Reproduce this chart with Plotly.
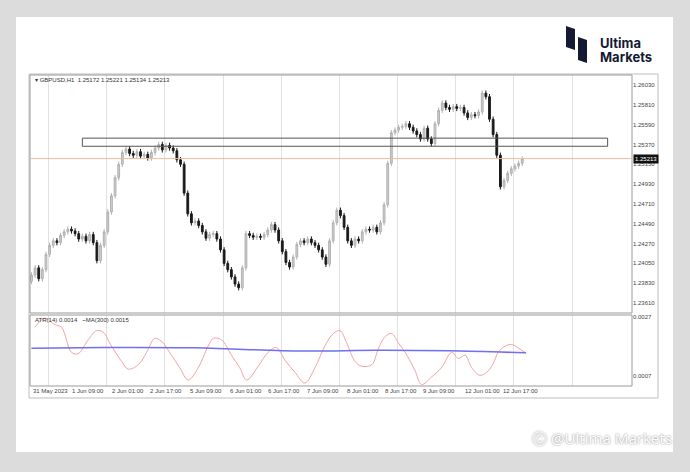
import plotly.graph_objects as go

W, H = 690, 472

# hourly closes, bar 0 = 31 May 2023
closes = [
    1.2392, 1.2400, 1.2388, 1.2398, 1.2415, 1.2425, 1.2430, 1.2428, 1.2436, 1.2440,
    1.2443, 1.2441, 1.2438, 1.2432, 1.2435, 1.2430, 1.2437, 1.2428, 1.2408, 1.2425,
    1.2440, 1.2462, 1.2480, 1.2500, 1.2515, 1.2528, 1.2532, 1.2527, 1.2525, 1.2529,
    1.2524, 1.2526, 1.2522, 1.2528, 1.2533, 1.2537, 1.2531, 1.2536, 1.2533, 1.2530,
    1.2520, 1.2515, 1.2483, 1.2460, 1.2450, 1.2452, 1.2447, 1.2440, 1.2433, 1.2437,
    1.2438, 1.2432, 1.2420, 1.2405, 1.2398, 1.2390, 1.2382, 1.2378, 1.2400, 1.2438,
    1.2436, 1.2434, 1.2435, 1.2434, 1.2437, 1.2442, 1.2448, 1.2442, 1.2430, 1.2418,
    1.2406, 1.2401, 1.2412, 1.2426, 1.2430, 1.2428, 1.2432, 1.2428, 1.2425, 1.2420,
    1.2412, 1.2404, 1.2430, 1.2450, 1.2464, 1.2458, 1.2445, 1.2430, 1.2425, 1.2432,
    1.2430, 1.2440, 1.2443, 1.2442, 1.2445, 1.2440, 1.2450, 1.2470, 1.2516, 1.2550,
    1.2553, 1.2556, 1.2557, 1.2560, 1.2556, 1.2552, 1.2548, 1.2543, 1.2555, 1.2543,
    1.2538, 1.2560, 1.2575, 1.2583, 1.2578, 1.2576, 1.2579, 1.2577, 1.2578, 1.2572,
    1.2567, 1.2570, 1.2569, 1.2573, 1.2594, 1.2590, 1.2565, 1.2548, 1.2525, 1.2490,
    1.2497, 1.2505, 1.2510, 1.2513, 1.2516, 1.2521,
]
first_open = 1.2385
wick = 0.0003

atr_x = [0.9, 3.7, 6.4, 8.3, 11, 12.8, 15.6, 17.9, 19.7, 22,
         24.8, 26.6, 29.4, 31.7, 33.9, 35.8, 38.5, 40.8, 43.1, 45.9,
         48.6, 50, 52.3, 55, 57.3, 59.2, 62.4, 65.1, 67.4, 69.7,
         72.5, 75.2, 78, 80.7, 83, 84.9, 86.7, 89, 90.8, 93.6,
         95.4, 97.2, 99.1, 100.9, 102.8, 105.5, 107.3, 110.1, 112.8, 115.6,
         117.4, 119.3, 121.1, 123.4, 125.7, 127.1, 128.4, 130.3, 132.1, 134.4, 136.2]
atr_v = [0.00233, 0.00264, 0.00243, 0.00233, 0.00149, 0.00144, 0.00191, 0.00222, 0.00217, 0.00170,
         0.00118, 0.00092, 0.00107, 0.00149, 0.00196, 0.00186, 0.00139, 0.00097, 0.00055, 0.00097,
         0.00170, 0.00196, 0.00191, 0.00139, 0.00097, 0.00055, 0.00102, 0.00149, 0.00165, 0.00123,
         0.00081, 0.00045, 0.00097, 0.00170, 0.00212, 0.00222, 0.00181, 0.00118, 0.00102, 0.00107,
         0.00160, 0.00201, 0.00212, 0.00181, 0.00149, 0.00087, 0.00040, 0.00066, 0.00097, 0.00149,
         0.00128, 0.00139, 0.00097, 0.00071, 0.00087, 0.00113, 0.00149, 0.00170, 0.00175, 0.00160, 0.00144]
ma_x = [0, 20, 45, 55, 75, 95, 115, 136]
ma_v = [0.00163, 0.00165, 0.00164, 0.00160, 0.00153, 0.00156, 0.00154, 0.00147]

price_ticks = [1.23610, 1.23830, 1.24050, 1.24270, 1.24490, 1.24710, 1.24930,
               1.25150, 1.25370, 1.25590, 1.25810, 1.26030]
time_labels = ["31 May 2023", "1 Jun 09:00", "2 Jun 01:00", "2 Jun 17:00", "5 Jun 09:00",
               "6 Jun 01:00", "6 Jun 17:00", "7 Jun 09:00", "8 Jun 01:00", "8 Jun 17:00",
               "9 Jun 09:00", "12 Jun 01:00", "12 Jun 17:00"]
time_pos = [0, 10.7, 21.7, 32.1, 43.1, 54.1, 64.6, 75.3, 86.3, 96.7, 107.1, 118.7, 129.1]
grid_pos = [4.7 + 16 * k for k in range(10)]
last_price = 1.25213
zone_lo, zone_hi = 1.2535, 1.2544

opens = [first_open] + closes[:-1]
highs = [max(o, c) + wick for o, c in zip(opens, closes)]
lows = [min(o, c) - wick for o, c in zip(opens, closes)]
idx = list(range(len(closes)))

def px(x):
    return x / W

def py(y):
    return 1 - y / H

xr = [-0.4, 165.2]
fig = go.Figure()
fig.add_trace(go.Candlestick(
    x=idx, open=opens, high=highs, low=lows, close=closes,
    increasing=dict(line=dict(color="#b0b0b0", width=1), fillcolor="#d0d0d0"),
    decreasing=dict(line=dict(color="#1a1a1a", width=1), fillcolor="#1a1a1a"),
    whiskerwidth=0, xaxis="x", yaxis="y", hoverinfo="skip"))
fig.add_trace(go.Scatter(x=atr_x, y=atr_v, mode="lines", line=dict(color="#f3a3a3", width=1, shape="spline"),
                         xaxis="x2", yaxis="y2"))
fig.add_trace(go.Scatter(x=ma_x, y=ma_v, mode="lines", line=dict(color="#6f6ff0", width=1.5, shape="spline"),
                         xaxis="x2", yaxis="y2"))

axfont = dict(family="Liberation Sans", size=6, color="#444")
fig.update_layout(
    width=W, height=H, margin=dict(l=0, r=0, t=0, b=0),
    paper_bgcolor="#dcdcdc", plot_bgcolor="white", showlegend=False,
    xaxis=dict(domain=[px(30), px(632)], range=xr, tickvals=grid_pos, showticklabels=False,
               showgrid=True, gridcolor="#e2e2e2", zeroline=False, rangeslider=dict(visible=False),
               anchor="y"),
    yaxis=dict(domain=[py(313), py(75)], range=[1.23499, 1.26141], side="right",
               tickvals=price_ticks, ticktext=["%.5f" % v for v in price_ticks],
               showgrid=False, zeroline=False, tickfont=axfont, ticks="", anchor="x"),
    xaxis2=dict(domain=[px(30), px(632)], range=xr, tickvals=grid_pos, showticklabels=False,
                showgrid=True, gridcolor="#e2e2e2", zeroline=False, anchor="y2"),
    yaxis2=dict(domain=[py(386), py(315)], range=[0.00035, 0.00275], side="right",
                tickvals=[0.0007, 0.0027], ticktext=["0.0007", "0.0027"],
                showgrid=False, zeroline=False, tickfont=axfont, ticks="", anchor="x2"),
)

shapes = [
    # white card
    dict(type="rect", xref="paper", yref="paper", x0=px(16), x1=px(673), y0=py(452), y1=py(17),
         fillcolor="white", line=dict(width=0), layer="below"),
    # outer chart frame
    dict(type="rect", xref="paper", yref="paper", x0=px(29), x1=px(658), y0=py(398), y1=py(74),
         line=dict(color="#bdbdbd", width=1), layer="below"),
    # pane frames
    dict(type="rect", xref="paper", yref="paper", x0=px(30), x1=px(632), y0=py(313), y1=py(75),
         line=dict(color="#9a9a9a", width=1)),
    dict(type="rect", xref="paper", yref="paper", x0=px(30), x1=px(632), y0=py(386), y1=py(315),
         line=dict(color="#9a9a9a", width=1)),
    # resistance zone
    dict(type="rect", xref="x", yref="y", x0=14, x1=158.5, y0=zone_lo, y1=zone_hi,
         line=dict(color="#555", width=1), fillcolor="rgba(0,0,0,0)"),
    # bid line
    dict(type="line", xref="x", yref="y", x0=xr[0], x1=xr[1], y0=last_price, y1=last_price,
         line=dict(color="#f2b9a3", width=1)),
    # logo marks
    dict(type="path", xref="paper", yref="paper",
         path="M %f %f L %f %f L %f %f L %f %f Z" % (px(566), py(26), px(575), py(29), px(575), py(50), px(566), py(47)),
         fillcolor="#141a33", line=dict(width=0)),
    dict(type="path", xref="paper", yref="paper",
         path="M %f %f L %f %f L %f %f L %f %f Z" % (px(578), py(37), px(587), py(40), px(587), py(63), px(578), py(60)),
         fillcolor="#141a33", line=dict(width=0)),
]
fig.update_layout(shapes=shapes)

ann = [
    dict(x=px(33), y=py(80), text="▾ GBPUSD,H1  1.25172 1.25221 1.25134 1.25213",
         font=dict(family="Liberation Sans", size=6, color="#333")),
    dict(x=px(33), y=py(320), text="ATR(14) 0.0014   ~MA(300) 0.0015",
         font=dict(family="Liberation Sans", size=6, color="#333")),
    dict(x=px(598), y=py(43), text="<b>Ultima</b>", font=dict(family="Inter", size=13, color="#141a33")),
    dict(x=px(598), y=py(57), text="<b>Markets</b>", font=dict(family="Inter", size=13, color="#141a33")),
    dict(x=px(530), y=py(438), text="Ⓒ @Ultima Markets",
         font=dict(family="Noto Sans", size=15, color="white", shadow="0px 0px 2px #777")),
]
annotations = [dict(xref="paper", yref="paper", xanchor="left", yanchor="middle", showarrow=False, **a) for a in ann]
for t, p in zip(time_labels, time_pos):
    annotations.append(dict(xref="x", yref="paper", x=p, y=py(391), text=t, showarrow=False,
                            xanchor="left", yanchor="middle", font=axfont))
annotations.append(dict(xref="paper", yref="y", x=px(633), y=last_price, text="1.25213", showarrow=False,
                        xanchor="left", yanchor="middle", bgcolor="#111", font=dict(family="Liberation Sans", size=6, color="white"),
                        borderpad=1))
fig.update_layout(annotations=annotations)

fig.write_html("out.html", config={"displayModeBar": False},
               post_script="document.body.style.margin='0';document.body.style.background='#dcdcdc';")
